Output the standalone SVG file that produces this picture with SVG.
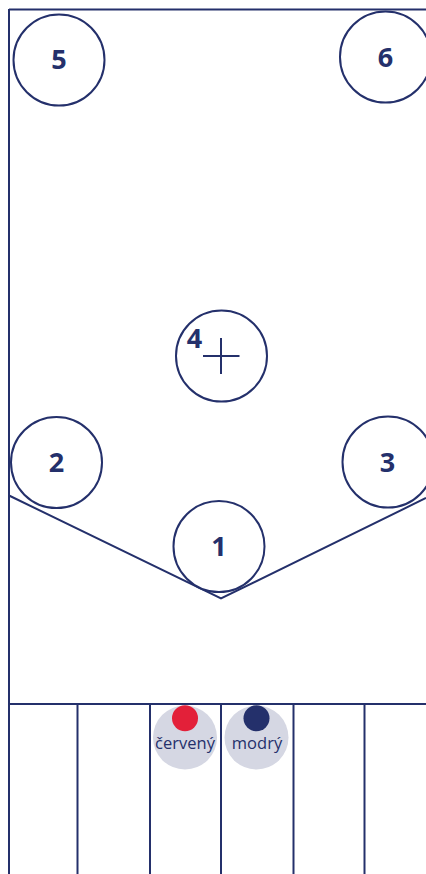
<svg xmlns="http://www.w3.org/2000/svg" width="426" height="874" viewBox="0 0 426 874">
<style>
.ln{fill:none;stroke:#24306b;stroke-width:2}
.c{fill:#fff;stroke:#24306b;stroke-width:2}
.n{font-family:"Open Sans","Liberation Sans",sans-serif;font-weight:bold;font-size:27px;fill:#24306b;text-anchor:middle}
.lbl{font-family:"Open Sans","Liberation Sans",sans-serif;font-size:16.5px;fill:#24306b;text-anchor:middle}
.bg{fill:#d5d7e3}
</style>
<rect width="426" height="874" fill="#fff"/>
<g id="frame" class="ln">
<line x1="9" y1="9.5" x2="426" y2="9.5"/>
<line x1="9" y1="9" x2="9" y2="874"/>
<line x1="9" y1="704" x2="426" y2="704"/>
<line x1="77.5" y1="704" x2="77.5" y2="874"/>
<line x1="150" y1="704" x2="150" y2="874"/>
<line x1="221" y1="704" x2="221" y2="874"/>
<line x1="293.5" y1="704" x2="293.5" y2="874"/>
<line x1="364.5" y1="704" x2="364.5" y2="874"/>
</g>
<g id="connectors" class="ln">
<polyline points="9,495.5 221,598.5 426,498"/>
</g>
<g id="node5"><circle class="c" cx="59" cy="60" r="45.5"/><text class="n" x="59" y="69">5</text></g>
<g id="node6"><circle class="c" cx="385.5" cy="57" r="45.5"/><text class="n" x="385.5" y="66.5">6</text></g>
<g id="node4"><circle class="c" cx="221.5" cy="356" r="45.5"/><line class="ln" x1="203" y1="356" x2="239.5" y2="356"/><line class="ln" x1="221" y1="338" x2="221" y2="374"/><text class="n" x="194.5" y="347.5">4</text></g>
<g id="node2"><circle class="c" cx="56.5" cy="462.5" r="45.5"/><text class="n" x="56.5" y="471.5">2</text></g>
<g id="node3"><circle class="c" cx="388" cy="462" r="45.5"/><text class="n" x="387.5" y="471.5">3</text></g>
<g id="node1"><circle class="c" cx="219" cy="546.5" r="45.5"/><text class="n" x="219" y="555.5">1</text></g>
<g id="legend-red"><circle class="bg" cx="185" cy="737.5" r="32"/><circle cx="185" cy="718.3" r="13" fill="#e32039"/><text class="lbl" x="185" y="748.5">červený</text></g>
<g id="legend-blue"><circle class="bg" cx="256.5" cy="737.5" r="32"/><circle cx="256.5" cy="718.3" r="13" fill="#24306b"/><text class="lbl" x="257" y="748.5">modrý</text></g>
</svg>
